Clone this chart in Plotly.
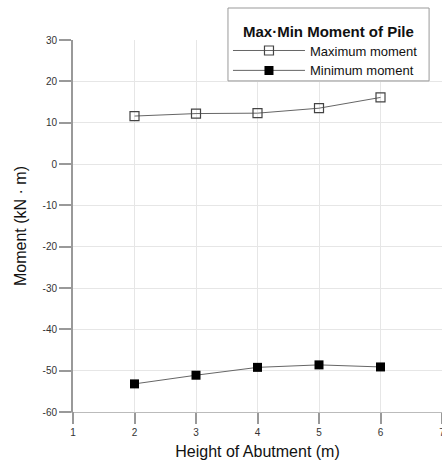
import plotly.graph_objects as go

# Pile moment versus abutment height
heights = [2, 3, 4, 5, 6]
max_moment = [11.6, 12.2, 12.3, 13.5, 16.1]
min_moment = [-53.2, -51.1, -49.2, -48.6, -49.1]

x_ticks = [1, 2, 3, 4, 5, 6, 7]
y_ticks = [30, 20, 10, 0, -10, -20, -30, -40, -50, -60]

FONT = "Liberation Sans, Arial, sans-serif"

fig = go.Figure()
fig.add_trace(go.Scatter(
    x=heights, y=max_moment, mode="lines+markers", name="Maximum moment",
    line=dict(color="#666666", width=1),
    marker=dict(symbol="square-open", size=9, color="#444444", line=dict(width=1.2)),
))
fig.add_trace(go.Scatter(
    x=heights, y=min_moment, mode="lines+markers", name="Minimum moment",
    line=dict(color="#666666", width=1),
    marker=dict(symbol="square", size=9, color="#000000"),
))

# extend the vertical axis line a little below the bottom tick
fig.add_shape(type="line", xref="paper", yref="paper", x0=0, x1=0, y0=0, y1=-0.03,
              line=dict(color="#999999", width=2))

# legend frame and heading
fig.add_shape(type="rect", xref="paper", yref="paper", x0=0.42, x1=0.965, y0=0.89, y1=1.086,
              fillcolor="white", line=dict(color="#999999", width=1), layer="above")
fig.add_annotation(text="<b>Max·Min Moment of Pile</b>", xref="paper", yref="paper",
                   x=0.6925, y=1.024, xanchor="center", yanchor="middle", showarrow=False,
                   font=dict(size=15, color="#111111"))

fig.update_layout(
    width=442, height=461,
    margin=dict(l=73, r=0, t=40, b=49),
    paper_bgcolor="white", plot_bgcolor="white",
    font=dict(family=FONT, color="#222222"),
    legend=dict(
        x=0.42, y=1.012, xanchor="left", yanchor="top",
        bgcolor="rgba(0,0,0,0)", borderwidth=0,
        font=dict(size=13, color="#111111"),
        itemwidth=72, tracegroupgap=0,
    ),
    xaxis=dict(
        range=[1, 7], tickvals=x_ticks, ticktext=[str(v) for v in x_ticks],
        showgrid=True, gridcolor="#e6e6e6", gridwidth=1,
        showline=True, linecolor="#bbbbbb", linewidth=1,
        ticks="outside", ticklen=11, tickcolor="#999999", tickwidth=1.5,
        tickfont=dict(size=10, color="#333333"),
        ticklabeloverflow="allow",
        zeroline=False, automargin=False,
        title=dict(text="Height of Abutment (m)", font=dict(size=16, color="#111111"), standoff=8),
    ),
    yaxis=dict(
        range=[-60, 30], tickvals=y_ticks, ticktext=[str(v) for v in y_ticks],
        showgrid=True, gridcolor="#e6e6e6", gridwidth=1,
        showline=True, linecolor="#999999", linewidth=2,
        ticks="outside", ticklen=12, tickcolor="#999999", tickwidth=1.5,
        tickfont=dict(size=10, color="#333333"),
        zeroline=False, automargin=False,
        title=dict(text="Moment (kN · m)", font=dict(size=16, color="#111111"), standoff=12),
    ),
)

fig.write_html("out.html")
